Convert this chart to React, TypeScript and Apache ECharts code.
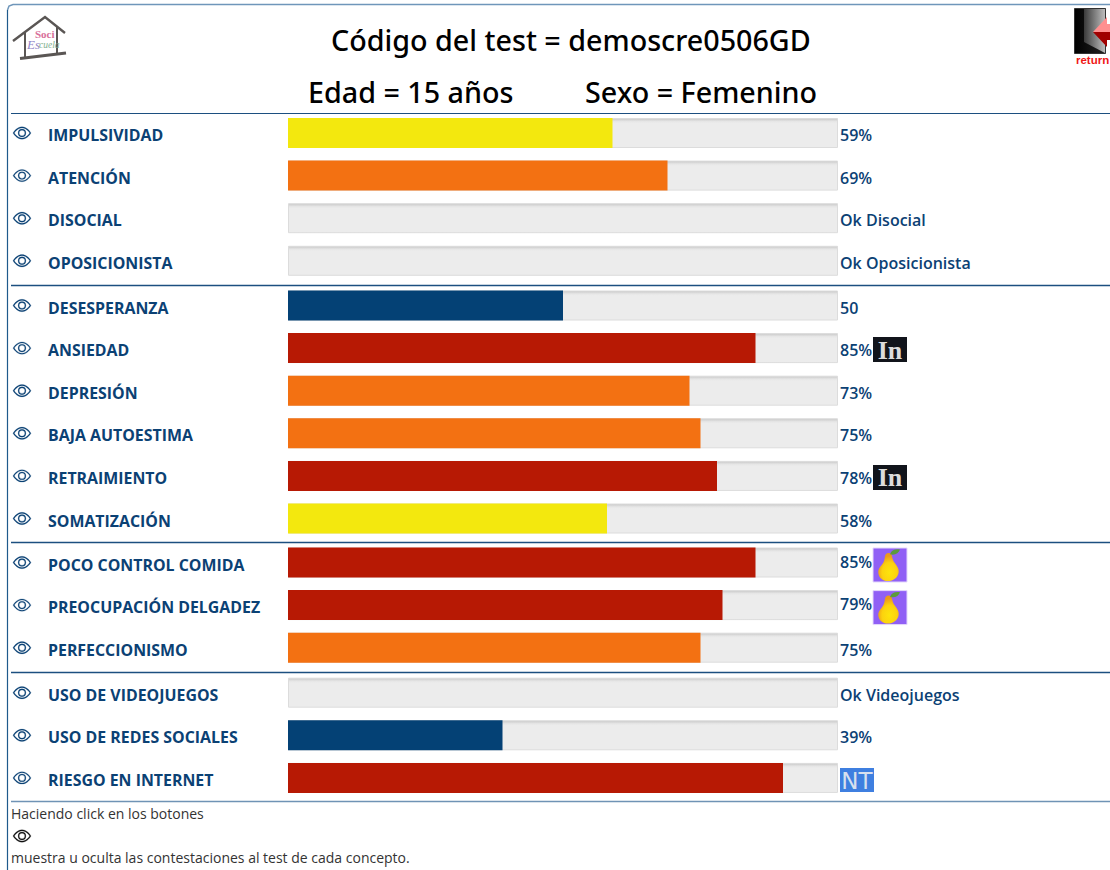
import React, { useEffect, useRef } from "react";
import * as echarts from "echarts";

const FONT = "'Open Sans', 'Noto Sans', sans-serif";
const HEAD_FONT = "'Noto Sans', 'Open Sans', sans-serif";
const INK = "#0b4174";

const conductNames = ["IMPULSIVIDAD", "ATENCIÓN", "DISOCIAL", "OPOSICIONISTA"];
const conductValues = [59, 69, null, null];
const conductLabels = ["59%", "69%", "Ok Disocial", "Ok Oposicionista"];

const moodNames = ["DESESPERANZA", "ANSIEDAD", "DEPRESIÓN", "BAJA AUTOESTIMA", "RETRAIMIENTO", "SOMATIZACIÓN"];
const moodValues = [50, 85, 73, 75, 78, 58];
const moodLabels = ["50", "85%", "73%", "75%", "78%", "58%"];
const moodBadges = [null, "in", null, null, "in", null];

const foodNames = ["POCO CONTROL COMIDA", "PREOCUPACIÓN DELGADEZ", "PERFECCIONISMO"];
const foodValues = [85, 79, 75];
const foodLabels = ["85%", "79%", "75%"];
const foodBadges = ["pear", "pear", null];

const netNames = ["USO DE VIDEOJUEGOS", "USO DE REDES SOCIALES", "RIESGO EN INTERNET"];
const netValues = [null, 39, 90];
const netLabels = ["Ok Videojuegos", "39%", ""];
const netBadges = [null, null, "nt"];

const groups = [
  { names: conductNames, values: conductValues, labels: conductLabels, badges: [null, null, null, null], top: 111.7 },
  { names: moodNames, values: moodValues, labels: moodLabels, badges: moodBadges, top: 284.2 },
  { names: foodNames, values: foodValues, labels: foodLabels, badges: foodBadges, top: 541.2 },
  { names: netNames, values: netValues, labels: netLabels, badges: netBadges, top: 671.4 },
];

const ROW = 42.6;
const EYE =
  "M16 8s-3-5.5-8-5.5S0 8 0 8s3 5.5 8 5.5S16 8 16 8zM1.173 8a13.133 13.133 0 0 1 1.66-2.043C4.12 4.668 5.88 3.5 8 3.5c2.12 0 3.879 1.168 5.168 2.457A13.133 13.133 0 0 1 14.828 8c-.058.087-.122.183-.195.288-.335.48-.83 1.12-1.465 1.755C11.879 11.332 10.119 12.5 8 12.5c-2.12 0-3.879-1.168-5.168-2.457A13.134 13.134 0 0 1 1.172 8zM8 5.5a2.5 2.5 0 1 0 0 5 2.5 2.5 0 0 0 0-5zM4.5 8a3.5 3.5 0 1 1 7 0 3.5 3.5 0 0 1-7 0z";
const PEAR =
  "M14 3c1.6 0 2.6 1 2.9 3 .4 3 1.8 4.6 3.6 7 1.5 2.2 2 4 1.6 6-.8 3.8-4.3 6.5-8.6 6.5S6.2 22.8 5.8 19c-.3-2.3.7-4 2.7-6.3 2-2.3 2.2-4.2 2.6-6.7C11.4 4 12.4 3 14 3z";
const LEAF = "M16 5c1-3 4-4.5 8-3.8-1 3-4 4.7-8 3.8z";

const fillColor = (v: number) => (v < 55 ? "#044175" : v < 65 ? "#f3e80e" : v < 77 ? "#f37112" : "#b71904");

function badge(kind: string, x: number, cy: number) {
  if (kind === "pear") {
    return {
      type: "group",
      x,
      y: cy - 14.5,
      children: [
        { type: "rect", shape: { x: 0, y: 0, width: 34, height: 34 }, style: { fill: "#9060f5", stroke: "#e4d8fb", lineWidth: 1 } },
        {
          type: "path",
          shape: { pathData: PEAR, x: 5, y: 5, width: 21, height: 28 },
          style: {
            fill: new echarts.graphic.RadialGradient(0.55, 0.7, 0.6, [
              { offset: 0, color: "#fde40c" },
              { offset: 0.6, color: "#fcd20e" },
              { offset: 1, color: "#ec9a1a" },
            ]),
          },
        },
        { type: "path", shape: { pathData: LEAF, x: 17, y: 1, width: 10, height: 6 }, style: { fill: "#5c9a3c" } },
      ],
    };
  }
  if (kind === "in") {
    return {
      type: "group",
      x,
      y: cy - 11,
      children: [
        { type: "rect", shape: { x: 0, y: 0, width: 34, height: 25 }, style: { fill: "#11141b" } },
        { type: "text", style: { x: 17, y: 13, text: "In", fill: "#dcdcdc", font: "bold 26px 'Liberation Serif', serif", align: "center", verticalAlign: "middle" } },
      ],
    };
  }
  return {
    type: "group",
    x: x - 33,
    y: cy - 10,
    children: [
      { type: "rect", shape: { x: 0, y: 0, width: 34, height: 24 }, style: { fill: "#3f7fe0" } },
      { type: "text", style: { x: 17, y: 13, text: "NT", fill: "#d8e0ee", font: "23px 'DejaVu Sans', sans-serif", align: "center", verticalAlign: "middle" } },
    ],
  };
}

function buildOption() {
  const grid: any[] = [];
  const xAxis: any[] = [];
  const yAxis: any[] = [];
  const series: any[] = [];
  const trackFill = new echarts.graphic.LinearGradient(0, 0, 0, 1, [
    { offset: 0, color: "#c8c8c8" },
    { offset: 0.1, color: "#e6e6e6" },
    { offset: 0.16, color: "#ececec" },
    { offset: 1, color: "#ececec" },
  ]);
  groups.forEach((g, i) => {
    grid.push({ left: 288, width: 550, top: g.top, height: g.names.length * ROW });
    xAxis.push({ gridIndex: i, type: "value", min: 0, max: 100, show: false });
    yAxis.push({
      gridIndex: i,
      type: "category",
      inverse: true,
      data: g.names,
      axisLine: { show: false },
      axisTick: { show: false },
      axisLabel: { align: "left", verticalAlign: "top", lineHeight: 4, margin: 240, color: INK, fontFamily: FONT, fontWeight: 700, fontSize: 15.9 },
    });
    series.push({
      type: "bar",
      xAxisIndex: i,
      yAxisIndex: i,
      barWidth: 30,
      barGap: "-100%",
      silent: true,
      itemStyle: { color: trackFill, borderColor: "#dcdcdc", borderWidth: 1 },
      label: {
        show: true,
        position: "right",
        distance: 2,
        color: INK,
        fontFamily: FONT,
        fontWeight: 600,
        fontSize: 16,
        offset: [0, 2],
        formatter: (p: any) => g.labels[p.dataIndex],
      },
      data: g.names.map((_, k) => (g.badges[k] === "pear" ? { value: 100, label: { offset: [0, -1] } } : 100)),
    });
    series.push({
      type: "bar",
      xAxisIndex: i,
      yAxisIndex: i,
      barWidth: 30,
      barGap: "-100%",
      silent: true,
      data: g.values.map((v) => (v == null ? null : { value: v, itemStyle: { color: fillColor(v) } })),
    });
    series.push({
      type: "custom",
      xAxisIndex: i,
      yAxisIndex: i,
      silent: true,
      clip: false,
      data: g.names.map((_, k) => [100, k]),
      encode: { x: 0, y: 1 },
      renderItem: (params: any, api: any) => {
        const k = api.value(1);
        const p = api.coord([100, k]);
        const children: any[] = [
          {
            type: "path",
            shape: { pathData: EYE, x: 13, y: p[1] - 9, width: 18, height: 18 },
            style: { fill: INK, stroke: INK, lineWidth: 0.2 },
          },
        ];
        const b = g.badges[k];
        if (b) children.push(badge(b, p[0] + 35, p[1]));
        return { type: "group", children };
      },
    });
  });

  const rule = (y: number, stroke: string, w = 1.5) => ({
    type: "line",
    shape: { x1: 11, y1: y, x2: 1110, y2: y },
    style: { stroke, lineWidth: w },
  });

  const graphic = [
    { type: "polyline", shape: { points: [[1110, 4.5], [13, 4.5], [9, 6], [7.5, 10]] }, style: { fill: "none", stroke: "#6f96ba", lineWidth: 1.5 } },
    { type: "polyline", shape: { points: [[7.5, 10], [7.5, 870]] }, style: { fill: "none", stroke: "#1f5a8c", lineWidth: 1.2 } },
    rule(113.5, "#1c4f80", 1.2),
    rule(285.5, "#1c4f80"),
    rule(542.5, "#1c4f80"),
    rule(672.5, "#1c4f80"),
    rule(801.5, "#6f93b5"),
    // logo
    { type: "polyline", shape: { points: [[13, 41], [45, 17], [65, 33]] }, style: { fill: "none", stroke: "#5a5654", lineWidth: 2.4 } },
    { type: "polyline", shape: { points: [[25, 32], [25, 58]] }, style: { fill: "none", stroke: "#5a5654", lineWidth: 2 } },
    { type: "polyline", shape: { points: [[57, 27], [57, 53]] }, style: { fill: "none", stroke: "#5a5654", lineWidth: 2 } },
    { type: "polyline", shape: { points: [[20, 58.5], [66, 53]] }, style: { fill: "none", stroke: "#5a5654", lineWidth: 3 } },
    { type: "text", x: 35, y: 28, style: { text: "Soci", fill: "#d8709a", font: "bold 11px 'Liberation Serif', serif" } },
    { type: "text", x: 27, y: 38, style: { text: "Es", fill: "#8f86c8", font: "italic 13px 'Liberation Serif', serif" } },
    { type: "text", x: 39, y: 40, style: { text: "cuela", fill: "#7fb08f", font: "italic 9.5px 'Liberation Serif', serif" } },
    // return door
    { type: "rect", shape: { x: 1074.5, y: 8.5, width: 31, height: 45 }, style: { fill: new echarts.graphic.LinearGradient(0, 0, 1, 0, [{ offset: 0, color: "#000" }, { offset: 1, color: "#222" }]), stroke: "#333" } },
    { type: "polygon", shape: { points: [[1084, 9], [1105, 9], [1105, 53], [1084, 42]] }, style: { fill: new echarts.graphic.LinearGradient(0, 0, 1, 0, [{ offset: 0, color: "#3a3a3a" }, { offset: 1, color: "#bdbdbd" }]) } },
    { type: "polygon", shape: { points: [[1093, 32], [1107, 17], [1107, 24], [1110, 24], [1110, 32]] }, style: { fill: "#ff9090" } },
    { type: "polygon", shape: { points: [[1093, 32], [1107, 47], [1107, 40], [1110, 40], [1110, 32]] }, style: { fill: "#a00000" } },
    { type: "text", x: 1076, y: 54, style: { text: "return", fill: "#f01818", font: "bold 11.5px 'Liberation Sans', sans-serif" } },
    // footer
    { type: "text", x: 11, y: 806, style: { text: "Haciendo click en los botones", fill: "#333", font: `14px ${FONT}` } },
    { type: "eye", x: 13, y: 827, scaleX: 18 / 16, scaleY: 18 / 16, style: { fill: "#111", stroke: "#111", lineWidth: 0.2 } },
    { type: "text", x: 11, y: 850, style: { text: "muestra u oculta las contestaciones al test de cada concepto.", fill: "#333", font: `14px ${FONT}` } },
  ];

  const head = { color: "#000", fontFamily: HEAD_FONT, fontWeight: 500, fontSize: 28.7 };
  return {
    animation: false,
    backgroundColor: "#fff",
    title: [
      { text: "Código del test = demoscre0506GD", left: 331, top: 25, padding: 0, textStyle: head },
      { text: "Edad = 15 años", left: 308, top: 77, padding: 0, textStyle: head },
      { text: "Sexo = Femenino", left: 585, top: 77, padding: 0, textStyle: head },
    ],
    grid,
    xAxis,
    yAxis,
    series,
    graphic,
  };
}

echarts.graphic.registerShape("eye", echarts.graphic.extendPath(EYE, {}) as any);

export default function App() {
  const ref = useRef<HTMLDivElement>(null);
  useEffect(() => {
    const chart = echarts.init(ref.current!, undefined, { renderer: "svg" });
    chart.setOption(buildOption() as any);
    return () => chart.dispose();
  }, []);
  return <div ref={ref} style={{ position: "fixed", left: 0, top: 0, width: 1110, height: 870 }} />;
}
